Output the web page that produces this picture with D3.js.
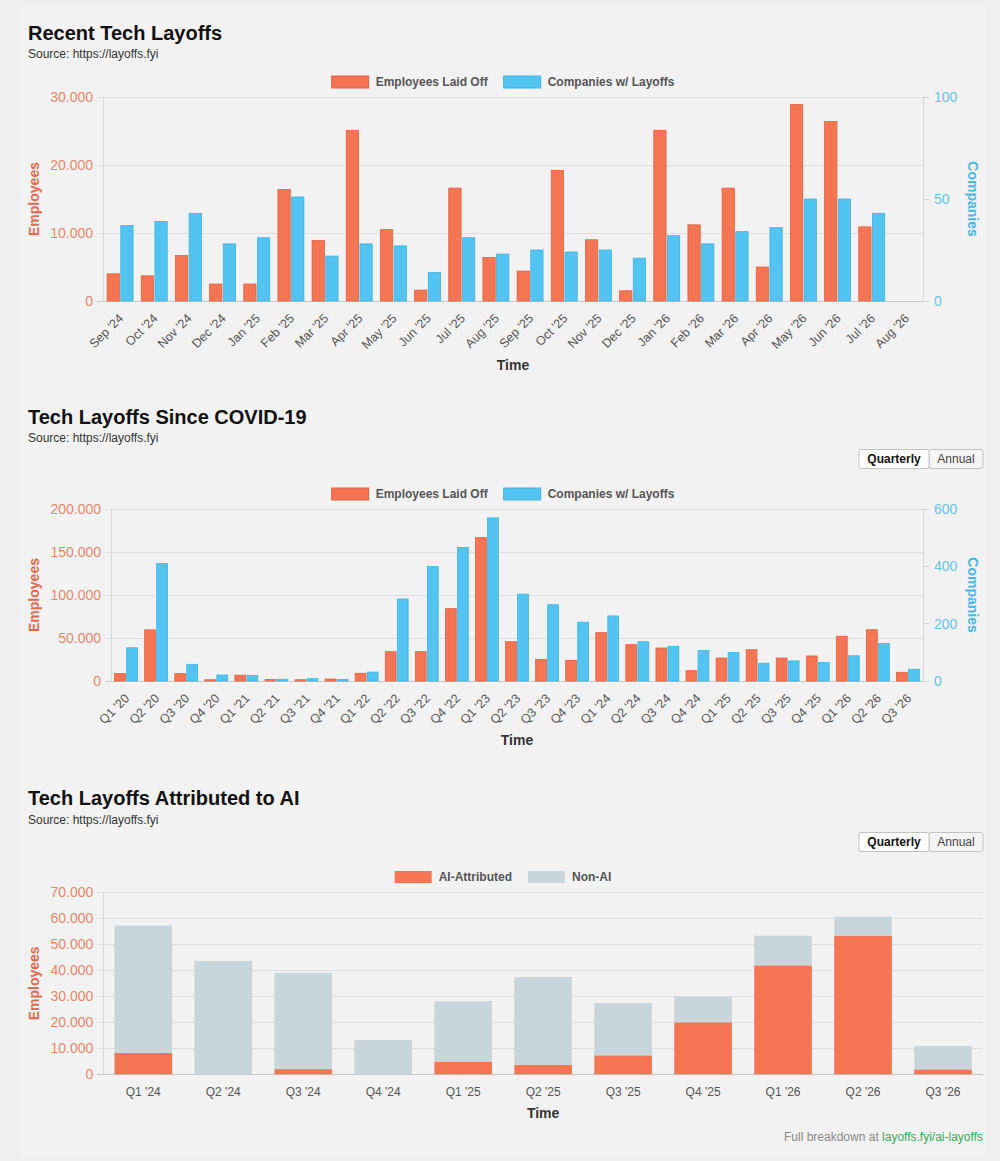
<!DOCTYPE html>
<html><head><meta charset="utf-8">
<script src="https://cdn.jsdelivr.net/npm/d3@7"></script>
<style>
html,body{margin:0;padding:0;background:#ececec;}
svg{display:block;font-family:"Liberation Sans",Arial,Helvetica,sans-serif;}
</style></head><body>
<svg id="chart" width="1000" height="1161"></svg>
<script>
// ---------- DATA ----------
const monthLabels = ["Sep '24","Oct '24","Nov '24","Dec '24","Jan '25","Feb '25","Mar '25","Apr '25","May '25","Jun '25","Jul '25","Aug '25","Sep '25","Oct '25","Nov '25","Dec '25","Jan '26","Feb '26","Mar '26","Apr '26","May '26","Jun '26","Jul '26","Aug '26"];
const monthEmployees = [4000,3700,6700,2500,2500,16400,8900,25100,10500,1600,16600,6400,4400,19200,9000,1500,25100,11200,16600,5000,28900,26400,10900,null];
const monthCompanies = [37,39,43,28,31,51,22,28,27,14,31,23,25,24,25,21,32,28,34,36,50,50,43,null];
const monthEmpTicks = [0,10000,20000,30000];
const monthCompTicks = [0,50,100];

const quarterLabels = ["Q1 '20","Q2 '20","Q3 '20","Q4 '20","Q1 '21","Q2 '21","Q3 '21","Q4 '21","Q1 '22","Q2 '22","Q3 '22","Q4 '22","Q1 '23","Q2 '23","Q3 '23","Q4 '23","Q1 '24","Q2 '24","Q3 '24","Q4 '24","Q1 '25","Q2 '25","Q3 '25","Q4 '25","Q1 '26","Q2 '26","Q3 '26"];
const quarterEmployees = [8600,59500,8600,1500,6800,1800,1500,2300,9000,34100,34100,84100,166700,45700,25200,24000,56200,42200,38400,12000,26700,36400,26700,29100,52000,59700,10100];
const quarterCompanies = [116,410,58,21,19,6,8,5,31,286,399,466,569,303,266,205,227,137,121,106,99,62,70,65,88,131,41];
const quarterEmpTicks = [0,50000,100000,150000,200000];
const quarterCompTicks = [0,200,400,600];

const aiQuarterLabels = ["Q1 '24","Q2 '24","Q3 '24","Q4 '24","Q1 '25","Q2 '25","Q3 '25","Q4 '25","Q1 '26","Q2 '26","Q3 '26"];
const aiAttributed = [8200,0,2000,0,4900,3700,7300,20000,41900,53300,1900];
const nonAiLayoffs = [49000,43600,37000,13200,23200,33700,20100,9900,11400,7300,9000];
const aiEmpTicks = [0,10000,20000,30000,40000,50000,60000,70000];

// ---------- STYLE ----------
const ORANGE = "#f37553", ORANGE_B = "#e5613f";
const BLUE = "#53c4f1", BLUE_B = "#3fb4e4";
const GREY = "#c8d5db";
const fmt = d3.formatLocale({decimal:",",thousands:".",grouping:[3],currency:["",""]}).format(",");

const svg = d3.select("#chart");
svg.append("rect").attr("x",0).attr("y",0).attr("width",1000).attr("height",1161).attr("fill","#efefef");
svg.append("rect").attr("x",20).attr("y",6).attr("width",966).attr("height",1152).attr("fill","#f2f2f2");

function header(titleY, title) {
  svg.append("text").attr("x",28).attr("y",titleY).attr("font-size",20).attr("font-weight","bold").attr("fill","#111").text(title);
  svg.append("text").attr("x",28).attr("y",titleY+18.5).attr("font-size",12).attr("fill","#333").text("Source: https://layoffs.fyi");
}

function legend(cy, items) {
  const g = svg.append("g");
  const parts = items.map(it => {
    const t = g.append("text").attr("font-size",12).attr("font-weight","bold").attr("fill","#555").attr("dy","0.35em").attr("y",cy).text(it.label);
    return {it, t, w: t.node().getComputedTextLength()};
  });
  const boxW = 37, gap = 7, itemGap = 16;
  const total = d3.sum(parts, p => boxW + gap + p.w) + itemGap*(parts.length-1);
  let x = 503 - total/2;
  parts.forEach(p => {
    g.append("rect").attr("x",x).attr("y",cy-6).attr("width",boxW).attr("height",12)
      .attr("fill",p.it.color).attr("stroke",p.it.stroke||"none").attr("stroke-width",1);
    p.t.attr("x", x+boxW+gap);
    x += boxW + gap + p.w + itemGap;
  });
}

function buttons(y) {
  const g = svg.append("g");
  g.append("rect").attr("x",929).attr("y",y).attr("width",54).attr("height",19).attr("rx",2).attr("fill","#f4f4f4").attr("stroke","#c2c2c2");
  g.append("rect").attr("x",859).attr("y",y).attr("width",70).attr("height",19).attr("rx",2).attr("fill","#fff").attr("stroke","#c2c2c2");
  g.append("text").attr("x",894).attr("y",y+13.5).attr("text-anchor","middle").attr("font-size",12).attr("font-weight","bold").attr("fill","#111").text("Quarterly");
  g.append("text").attr("x",956).attr("y",y+13.5).attr("text-anchor","middle").attr("font-size",12).attr("fill","#444").text("Annual");
}

function yTitle(x, y, text, color, rot) {
  svg.append("text").attr("transform",`translate(${x},${y}) rotate(${rot})`).attr("text-anchor","middle").attr("dy","0.35em")
    .attr("font-size",14).attr("font-weight","bold").attr("fill",color).text(text);
}

function dualChart(c) {
  const g = svg.append("g");
  const x0 = d3.scaleBand().domain(c.labels).range([c.left,c.right]).padding(0);
  const bw = x0.bandwidth();
  const x1 = d3.scaleBand().domain(["emp","comp"]).range([bw*0.1, bw*0.9]).paddingInner(0.1).paddingOuter(0.05);
  const yL = d3.scaleLinear().domain([0, d3.max(c.empTicks)]).range([c.bottom, c.top]);
  const yR = d3.scaleLinear().domain([0, d3.max(c.compTicks)]).range([c.bottom, c.top]);

  g.append("g").selectAll("line").data(c.empTicks).join("line")
    .attr("x1",c.left-6).attr("x2",c.right).attr("y1",d=>yL(d)).attr("y2",d=>yL(d))
    .attr("stroke",d=>d===0?"#c8c8c8":"#dedede").attr("stroke-width",1).attr("shape-rendering","crispEdges");
  g.append("line").attr("x1",c.left).attr("x2",c.left).attr("y1",c.top).attr("y2",c.bottom).attr("stroke","#d8d8d8").attr("shape-rendering","crispEdges");
  g.append("line").attr("x1",c.right).attr("x2",c.right).attr("y1",c.top).attr("y2",c.bottom).attr("stroke","#d8d8d8").attr("shape-rendering","crispEdges");
  g.append("g").selectAll("line").data(c.compTicks).join("line")
    .attr("x1",c.right).attr("x2",c.right+6).attr("y1",d=>yR(d)).attr("y2",d=>yR(d)).attr("stroke","#d0d0d0").attr("shape-rendering","crispEdges");

  g.append("g").selectAll("text").data(c.empTicks).join("text")
    .attr("x",c.left-10).attr("y",d=>yL(d)).attr("dy","0.35em").attr("text-anchor","end")
    .attr("font-size",14).attr("fill","#e8876b").text(d=>fmt(d));
  g.append("g").selectAll("text").data(c.compTicks).join("text")
    .attr("x",c.right+11).attr("y",d=>yR(d)).attr("dy","0.35em").attr("text-anchor","start")
    .attr("font-size",14).attr("fill","#66c4e6").text(d=>fmt(d));

  const rows = c.labels.map((l,i)=>({l, emp:c.emp[i], comp:c.comp[i]}));
  const bars = g.append("g");
  bars.selectAll("rect.emp").data(rows.filter(r=>r.emp!=null)).join("rect").attr("class","emp")
    .attr("x",r=>x0(r.l)+x1("emp")).attr("width",x1.bandwidth())
    .attr("y",r=>yL(r.emp)).attr("height",r=>c.bottom-yL(r.emp))
    .attr("fill",ORANGE).attr("stroke",ORANGE_B).attr("stroke-width",0.8);
  bars.selectAll("rect.comp").data(rows.filter(r=>r.comp!=null)).join("rect").attr("class","comp")
    .attr("x",r=>x0(r.l)+x1("comp")).attr("width",x1.bandwidth())
    .attr("y",r=>yR(r.comp)).attr("height",r=>c.bottom-yR(r.comp))
    .attr("fill",BLUE).attr("stroke",BLUE_B).attr("stroke-width",0.8);

  g.append("g").selectAll("text").data(c.labels).join("text")
    .attr("transform",d=>`translate(${x0(d)+bw/2+1},${c.bottom+15}) rotate(-45)`)
    .attr("text-anchor","end").attr("dy","0.35em").attr("font-size",12.5).attr("fill","#555").text(d=>d);

  svg.append("text").attr("x",(c.left+c.right)/2).attr("y",c.timeY).attr("text-anchor","middle")
    .attr("font-size",14).attr("font-weight","bold").attr("fill","#333").text("Time");

  yTitle(34,(c.top+c.bottom)/2,"Employees","#e5694a",-90);
  yTitle(973,(c.top+c.bottom)/2,"Companies","#4ab7df",90);
}

// ---------- CHART 1 ----------
header(39.5, "Recent Tech Layoffs");
legend(82, [{label:"Employees Laid Off",color:ORANGE,stroke:ORANGE_B},{label:"Companies w/ Layoffs",color:BLUE,stroke:BLUE_B}]);
dualChart({labels:monthLabels, emp:monthEmployees, comp:monthCompanies, empTicks:monthEmpTicks, compTicks:monthCompTicks,
  left:103, right:923, top:97, bottom:301, timeY:370});

// ---------- CHART 2 ----------
header(423.5, "Tech Layoffs Since COVID-19");
buttons(449.5);
legend(494, [{label:"Employees Laid Off",color:ORANGE,stroke:ORANGE_B},{label:"Companies w/ Layoffs",color:BLUE,stroke:BLUE_B}]);
dualChart({labels:quarterLabels, emp:quarterEmployees, comp:quarterCompanies, empTicks:quarterEmpTicks, compTicks:quarterCompTicks,
  left:111, right:923, top:509, bottom:681, timeY:745});

// ---------- CHART 3 ----------
header(805, "Tech Layoffs Attributed to AI");
buttons(832.5);
legend(877, [{label:"AI-Attributed",color:ORANGE},{label:"Non-AI",color:GREY}]);
(function(){
  const c = {left:103.3, right:983, top:892.3, bottom:1074.3};
  const g = svg.append("g");
  const x = d3.scaleBand().domain(aiQuarterLabels).range([c.left,c.right]).paddingInner(0.28).paddingOuter(0.14);
  const y = d3.scaleLinear().domain([0, d3.max(aiEmpTicks)]).range([c.bottom,c.top]);
  g.append("g").selectAll("line").data(aiEmpTicks).join("line")
    .attr("x1",c.left-6).attr("x2",c.right).attr("y1",d=>y(d)).attr("y2",d=>y(d))
    .attr("stroke",d=>d===0?"#c8c8c8":"#dedede").attr("shape-rendering","crispEdges");
  g.append("line").attr("x1",c.left).attr("x2",c.left).attr("y1",c.top).attr("y2",c.bottom).attr("stroke","#d8d8d8").attr("shape-rendering","crispEdges");
  g.append("g").selectAll("text").data(aiEmpTicks).join("text")
    .attr("x",c.left-10).attr("y",d=>y(d)).attr("dy","0.35em").attr("text-anchor","end")
    .attr("font-size",14).attr("fill","#e8876b").text(d=>fmt(d));
  const rows = aiQuarterLabels.map((l,i)=>({label:l, ai:aiAttributed[i], nonai:nonAiLayoffs[i]}));
  const stack = d3.stack().keys(["ai","nonai"])(rows);
  const colors = {ai:ORANGE, nonai:GREY};
  g.append("g").selectAll("g").data(stack).join("g").attr("fill",s=>colors[s.key])
    .selectAll("rect").data(s=>s).join("rect")
    .attr("x",d=>x(d.data.label)).attr("width",x.bandwidth())
    .attr("y",d=>y(d[1])).attr("height",d=>y(d[0])-y(d[1]));
  g.append("g").selectAll("text").data(aiQuarterLabels).join("text")
    .attr("x",d=>x(d)+x.bandwidth()/2).attr("y",1095.5).attr("text-anchor","middle")
    .attr("font-size",12).attr("fill","#555").text(d=>d);
  svg.append("text").attr("x",(c.left+c.right)/2).attr("y",1118).attr("text-anchor","middle")
    .attr("font-size",14).attr("font-weight","bold").attr("fill","#333").text("Time");
  yTitle(34,(c.top+c.bottom)/2,"Employees","#e5694a",-90);
  const f = svg.append("text").attr("x",983).attr("y",1140.5).attr("text-anchor","end").attr("font-size",12);
  f.append("tspan").attr("fill","#888").text("Full breakdown at ");
  f.append("tspan").attr("fill","#37a85c").text("layoffs.fyi/ai-layoffs");
})();
</script>
</body></html>
